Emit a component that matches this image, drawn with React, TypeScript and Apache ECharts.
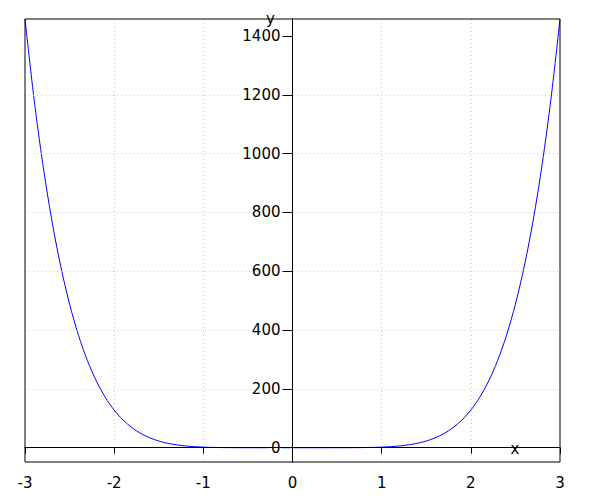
import React, { useEffect, useRef } from "react";
import * as echarts from "echarts";

const xValues: number[] = [
  -3.0, -2.9, -2.8, -2.7, -2.6, -2.5, -2.4, -2.3, -2.2, -2.1,
  -2.0, -1.9, -1.8, -1.7, -1.6, -1.5, -1.4, -1.3, -1.2, -1.1,
  -1.0, -0.9, -0.8, -0.7, -0.6, -0.5, -0.4, -0.3, -0.2, -0.1,
  0.0, 0.1, 0.2, 0.3, 0.4, 0.5, 0.6, 0.7, 0.8, 0.9,
  1.0, 1.1, 1.2, 1.3, 1.4, 1.5, 1.6, 1.7, 1.8, 1.9,
  2.0, 2.1, 2.2, 2.3, 2.4, 2.5, 2.6, 2.7, 2.8, 2.9, 3.0,
];

const yValues: number[] = [
  1458, 1189.6, 963.8, 774.8, 617.8, 488.3, 382.2, 296.1, 226.8, 171.5,
  128, 94.1, 68.0, 48.3, 33.6, 22.8, 15.1, 9.65, 5.97, 3.54,
  2, 1.06, 0.52, 0.24, 0.09, 0.03, 0.008, 0.0015, 0.0001, 0,
  0, 0, 0.0001, 0.0015, 0.008, 0.03, 0.09, 0.24, 0.52, 1.06,
  2, 3.54, 5.97, 9.65, 15.1, 22.8, 33.6, 48.3, 68.0, 94.1,
  128, 171.5, 226.8, 296.1, 382.2, 488.3, 617.8, 774.8, 963.8, 1189.6, 1458,
];

const xTicks: number[] = [-3, -2, -1, 0, 1, 2, 3];
const yTicks: number[] = [0, 200, 400, 600, 800, 1000, 1200, 1400];
const xRange: [number, number] = [-3, 3];
const yRange: [number, number] = [-48.6, 1458];

const FONT = "DejaVu Sans";

export default function App() {
  const ref = useRef<HTMLDivElement>(null);

  useEffect(() => {
    if (!ref.current) return;
    const chart = echarts.init(ref.current, null, { renderer: "svg" });
    const gridLine = {
      show: true,
      showMinLine: false,
      showMaxLine: false,
      lineStyle: { color: "#c8c8c8", width: 1, type: [1, 3] as any },
    };
    const gridLeft = 25;
    const gridWidth = 535;
    const zeroOffset = -gridWidth * (0 - xRange[0]) / (xRange[1] - xRange[0]);
    chart.setOption({
      animation: false,
      backgroundColor: "#ffffff",
      grid: {
        left: gridLeft,
        top: 19,
        width: gridWidth,
        height: 443,
        containLabel: false,
        outerBoundsMode: "none",
        show: true,
        borderColor: "#000000",
        borderWidth: 1,
        backgroundColor: "transparent",
        z: 20,
      },
      xAxis: [
        {
          type: "value",
          min: xRange[0],
          max: xRange[1],
          interval: 1,
          position: "bottom",
          z: 1,
          axisLine: { show: false, onZero: false },
          axisTick: { show: false },
          axisLabel: {
            show: true,
            color: "#000",
            fontFamily: FONT,
            fontSize: 15,
            margin: 13,
            formatter: (v: number) => String(v),
          },
          splitLine: gridLine,
        },
        {
          type: "value",
          min: xRange[0],
          max: xRange[1],
          interval: 1,
          position: "bottom",
          z: 10,
          axisLine: { show: true, onZero: true, onZeroAxisIndex: 0, lineStyle: { color: "#000", width: 1 } },
          axisTick: { show: true, inside: false, length: 6, lineStyle: { color: "#000" }, customValues: xTicks },
          axisLabel: { show: false },
          splitLine: { show: false },
        },
      ],
      yAxis: {
        type: "value",
        min: yRange[0],
        max: yRange[1],
        position: "left",
        offset: zeroOffset,
        z: 5,
        axisLine: { show: true, onZero: false, lineStyle: { color: "#000", width: 1 } },
        axisTick: { show: true, inside: false, length: 10, lineStyle: { color: "#000" }, customValues: yTicks },
        axisLabel: {
          show: true,
          inside: false,
          color: "#000",
          fontFamily: FONT,
          fontSize: 15,
          margin: 11,
          backgroundColor: "#ffffff",
          padding: [0, 1, 0, 2],
          customValues: yTicks,
          formatter: (v: number) => String(v),
        },
        splitLine: gridLine,
      },
      graphic: [
        {
          type: "text",
          x: 270.5,
          y: 18.5,
          z: 100,
          style: { text: "y", fill: "#000", font: `15px '${FONT}'`, align: "center", verticalAlign: "middle" },
        },
        {
          type: "text",
          x: 515,
          y: 448.5,
          z: 100,
          style: { text: "x", fill: "#000", font: `15px '${FONT}'`, align: "center", verticalAlign: "middle" },
        },
      ],
      series: [
        {
          type: "line",
          xAxisIndex: 0,
          data: xValues.map((x, i) => [x, yValues[i]]),
          showSymbol: false,
          smooth: 0.3,
          lineStyle: { color: "#0000ff", width: 1 },
          clip: true,
          z: 3,
        },
      ],
    });
    return () => chart.dispose();
  }, []);

  return (
    <div
      ref={ref}
      style={{ position: "absolute", left: 0, top: 0, width: 600, height: 500 }}
    />
  );
}
